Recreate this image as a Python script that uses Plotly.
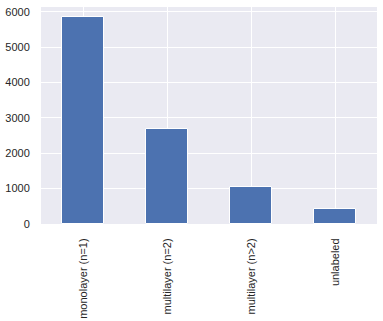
import plotly.graph_objects as go

categories = ["monolayer (n=1)", "multilayer (n=2)", "multilayer (n>2)", "unlabeled"]
counts = [5840, 2675, 1055, 415]
y_ticks = [0, 1000, 2000, 3000, 4000, 5000, 6000]

fig = go.Figure(go.Bar(
    x=list(range(len(categories))),
    y=counts,
    width=0.5,
    marker=dict(color="#4C72B0", line=dict(color="white", width=1)),
))

font = dict(family="Liberation Sans, Arial, sans-serif", size=11, color="#262626")
fig.update_layout(
    width=383, height=321,
    margin=dict(l=41, r=6, t=7, b=97, autoexpand=False),
    paper_bgcolor="white",
    plot_bgcolor="#EAEAF2",
    showlegend=False,
    font=font,
    xaxis=dict(
        range=[-0.5, 3.5],
        tickmode="array",
        tickvals=list(range(len(categories))),
        ticktext=categories,
        tickangle=-90,
        showgrid=True, gridcolor="white", gridwidth=1,
        zeroline=False, showline=False,
        ticks="outside", ticklen=9, tickcolor="rgba(0,0,0,0)",
        automargin=False,
    ),
    yaxis=dict(
        range=[0, 6132],
        tickmode="array",
        tickvals=y_ticks,
        ticktext=[str(v) for v in y_ticks],
        showgrid=True, gridcolor="white", gridwidth=1,
        zeroline=False, showline=False,
        ticks="outside", ticklen=8, tickcolor="rgba(0,0,0,0)",
        automargin=False,
    ),
    bargap=0,
)

fig.write_html("out.html")
